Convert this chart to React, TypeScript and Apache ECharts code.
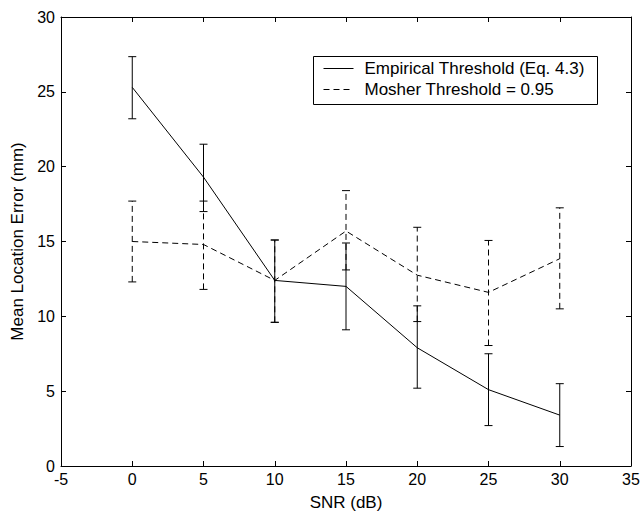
import React, { useEffect, useRef } from "react";
import * as echarts from "echarts";

const snr = [0, 5, 10, 15, 20, 25, 30];
const empiricalMean = [25.3, 19.3, 12.4, 12.0, 7.9, 5.1, 3.4];
const empiricalLower = [23.2, 17.0, 9.6, 9.1, 5.2, 2.7, 1.3];
const empiricalUpper = [27.35, 21.5, 15.1, 14.9, 10.7, 7.5, 5.5];
const mosherMean = [15.0, 14.8, 12.4, 15.7, 12.75, 11.6, 13.85];
const mosherLower = [12.3, 11.8, 9.6, 13.1, 9.65, 8.05, 10.5];
const mosherUpper = [17.7, 17.7, 15.1, 18.4, 15.95, 15.07, 17.25];

const empiricalName = "Empirical Threshold (Eq. 4.3)";
const mosherName = "Mosher Threshold = 0.95";

const FONT = "Liberation Sans, Arial, Helvetica, sans-serif";
const DASH = [6, 4];

function errorBarRenderer(dashed: boolean) {
  return (params: any, api: any) => {
    const x = api.value(0);
    const lo = api.value(1);
    const hi = api.value(2);
    const pLo = api.coord([x, lo]);
    const pHi = api.coord([x, hi]);
    const hw = 4;
    return {
      type: "group",
      children: [
        {
          type: "line",
          shape: { x1: pLo[0], y1: pLo[1], x2: pHi[0], y2: pHi[1] },
          style: { stroke: "#000", lineWidth: 1, lineDash: dashed ? DASH : null },
        },
        {
          type: "line",
          shape: { x1: pLo[0] - hw, y1: pLo[1], x2: pLo[0] + hw, y2: pLo[1] },
          style: { stroke: "#000", lineWidth: 1 },
        },
        {
          type: "line",
          shape: { x1: pHi[0] - hw, y1: pHi[1], x2: pHi[0] + hw, y2: pHi[1] },
          style: { stroke: "#000", lineWidth: 1 },
        },
      ],
    };
  };
}

export default function App() {
  const ref = useRef<HTMLDivElement>(null);
  useEffect(() => {
    if (!ref.current) return;
    const chart = echarts.init(ref.current, null, { renderer: "svg" });
    const axisCommon = {
      min: -5,
      max: 35,
      interval: 5,
      axisLine: { show: true, onZero: false, lineStyle: { color: "#000", width: 1 } },
      axisTick: { show: true, inside: true, length: 5, lineStyle: { color: "#000" } },
      splitLine: { show: false },
    };
    const yCommon = {
      min: 0,
      max: 30,
      interval: 5,
      axisLine: { show: true, onZero: false, lineStyle: { color: "#000", width: 1 } },
      axisTick: { show: true, inside: true, length: 5, lineStyle: { color: "#000" } },
      splitLine: { show: false },
    };
    chart.setOption({
      animation: false,
      backgroundColor: "#fff",
      textStyle: { fontFamily: FONT, color: "#000" },
      grid: {
        left: 61,
        right: 11,
        top: 17,
        bottom: 53,
        containLabel: false,
        outerBoundsMode: "none",
      },
      xAxis: [
        {
          type: "value",
          position: "bottom",
          ...axisCommon,
          name: "SNR (dB)",
          nameLocation: "middle",
          nameGap: 28,
          nameTextStyle: { fontSize: 17, color: "#000", fontFamily: FONT },
          axisLabel: { show: true, margin: 5, fontSize: 16, color: "#000", fontFamily: FONT },
        },
        {
          type: "value",
          position: "top",
          ...axisCommon,
          axisLabel: { show: false },
        },
      ],
      yAxis: [
        {
          type: "value",
          position: "left",
          ...yCommon,
          name: "Mean Location Error (mm)",
          nameLocation: "middle",
          nameGap: 34,
          nameTextStyle: { fontSize: 17, color: "#000", fontFamily: FONT },
          axisLabel: { show: true, margin: 6, fontSize: 16, color: "#000", fontFamily: FONT },
        },
        {
          type: "value",
          position: "right",
          ...yCommon,
          axisLabel: { show: false },
        },
      ],
      series: [
        {
          name: empiricalName,
          type: "line",
          xAxisIndex: 0,
          yAxisIndex: 0,
          data: snr.map((x, i) => [x, empiricalMean[i]]),
          symbol: "none",
          lineStyle: { color: "#000", width: 1, type: "solid" },
          z: 3,
        },
        {
          name: mosherName,
          type: "line",
          xAxisIndex: 0,
          yAxisIndex: 0,
          data: snr.map((x, i) => [x, mosherMean[i]]),
          symbol: "none",
          lineStyle: { color: "#000", width: 1, type: DASH },
          z: 3,
        },
        {
          name: empiricalName + " error",
          type: "custom",
          xAxisIndex: 0,
          yAxisIndex: 0,
          renderItem: errorBarRenderer(false),
          data: snr.map((x, i) => [x, empiricalLower[i], empiricalUpper[i]]),
          encode: { x: 0, y: [1, 2] },
          z: 2,
        },
        {
          name: mosherName + " error",
          type: "custom",
          xAxisIndex: 0,
          yAxisIndex: 0,
          renderItem: errorBarRenderer(true),
          data: snr.map((x, i) => [x, mosherLower[i], mosherUpper[i]]),
          encode: { x: 0, y: [1, 2] },
          z: 2,
        },
      ],
      graphic: [
        {
          type: "group",
          left: 313,
          top: 56,
          z: 10,
          children: [
            {
              type: "rect",
              shape: { x: 0, y: 0, width: 284, height: 48 },
              style: { fill: "#fff", stroke: "#000", lineWidth: 1 },
            },
            {
              type: "line",
              shape: { x1: 10, y1: 12, x2: 40, y2: 12 },
              style: { stroke: "#000", lineWidth: 1 },
            },
            {
              type: "line",
              shape: { x1: 10, y1: 33, x2: 40, y2: 33 },
              style: { stroke: "#000", lineWidth: 1, lineDash: DASH },
            },
            {
              type: "text",
              x: 51,
              y: 12,
              style: {
                text: empiricalName,
                fontSize: 17,
                fontFamily: FONT,
                fill: "#000",
                verticalAlign: "middle",
                align: "left",
              },
            },
            {
              type: "text",
              x: 51,
              y: 33,
              style: {
                text: mosherName,
                fontSize: 17,
                fontFamily: FONT,
                fill: "#000",
                verticalAlign: "middle",
                align: "left",
              },
            },
          ],
        },
      ],
    });
    return () => chart.dispose();
  }, []);
  return (
    <div
      ref={ref}
      style={{ position: "fixed", left: 0, top: 0, width: 642, height: 519, background: "#fff" }}
    />
  );
}
